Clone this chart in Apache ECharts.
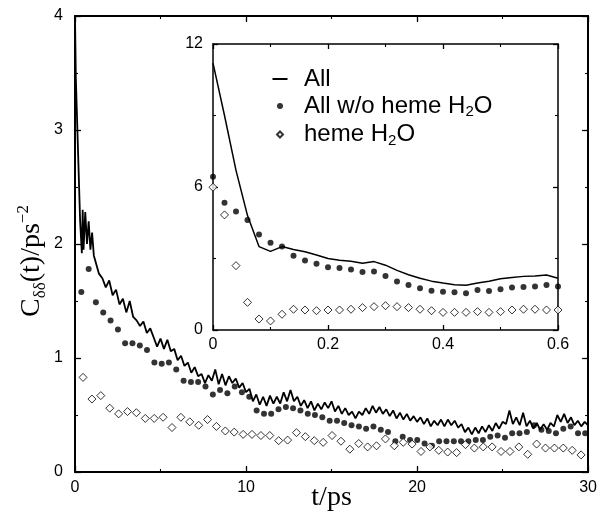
<!DOCTYPE html>
<html>
<head>
<meta charset="utf-8">
<script src="https://cdn.jsdelivr.net/npm/echarts@6/dist/echarts.min.js"></script>
<style>html,body{margin:0;padding:0;background:#fff;}#c{width:600px;height:519px;}</style>
</head>
<body>
<div id="c"></div>
<script>
// ---------- main panel data (t in ps) ----------
const allLineStartT = [0, 0.05, 0.1, 0.2, 0.3, 0.4, 0.45, 0.5, 0.6, 0.7, 0.8, 0.9, 1.0, 1.1];
const allLineStartV = [4.0, 3.45, 3.2, 2.7, 2.2, 1.92, 2.3, 1.95, 2.28, 2.0, 2.2, 1.95, 2.1, 1.9];
const allLineGridStart = 1.2, allLineGridStep = 0.2;
const allLineV = [
  1.90,1.74,1.70,1.62,1.68,1.55,1.60,1.47,1.52,1.40,
  1.50,1.36,1.33,1.28,1.32,1.22,1.26,1.18,1.10,1.17,
  1.08,1.16,1.06,1.08,0.98,1.02,0.93,0.96,0.87,0.92,
  0.84,0.86,0.78,0.85,0.80,0.90,0.77,0.86,0.76,0.84,
  0.78,0.82,0.74,0.78,0.70,0.73,0.62,0.68,0.59,0.66,
  0.58,0.67,0.60,0.66,0.60,0.70,0.62,0.72,0.62,0.66,
  0.58,0.63,0.56,0.62,0.54,0.60,0.55,0.61,0.56,0.62,
  0.53,0.58,0.51,0.56,0.50,0.53,0.47,0.53,0.50,0.56,
  0.51,0.58,0.52,0.57,0.51,0.55,0.49,0.54,0.47,0.52,
  0.46,0.51,0.45,0.49,0.44,0.48,0.42,0.47,0.40,0.45,
  0.41,0.46,0.40,0.46,0.41,0.45,0.39,0.42,0.35,0.39,
  0.33,0.39,0.34,0.40,0.35,0.41,0.36,0.43,0.38,0.44,
  0.42,0.54,0.42,0.48,0.41,0.52,0.40,0.45,0.38,0.43,
  0.37,0.42,0.37,0.43,0.40,0.50,0.44,0.51,0.43,0.48,
  0.41,0.45,0.40,0.44,0.41
];
const woHemeT = [0.37,0.80,1.22,1.65,2.08,2.51,2.93,3.36,3.79,4.21,4.64,5.07,5.49,5.92,6.35,6.78,7.20,7.63,8.06,8.48,
  8.91,9.34,9.76,10.19,10.62,11.05,11.47,11.90,12.33,12.75,13.18,13.61,14.03,14.46,14.89,15.32,15.74,16.17,16.60,17.02,
  17.45,17.88,18.30,18.73,19.16,19.59,20.01,20.44,20.87,21.29,21.72,22.15,22.57,23.00,23.43,23.85,24.28,24.71,25.14,25.56,
  25.99,26.42,26.84,27.27,27.70,28.12,28.55,28.98,29.41,29.83];
const woHemeV = [1.58,1.78,1.49,1.40,1.33,1.25,1.13,1.13,1.11,1.07,0.96,0.95,0.96,0.90,0.80,0.79,0.79,0.75,0.68,0.72,
  0.69,0.75,0.70,0.66,0.54,0.51,0.51,0.55,0.57,0.56,0.54,0.51,0.50,0.48,0.45,0.45,0.43,0.41,0.40,0.38,
  0.40,0.37,0.35,0.27,0.31,0.28,0.28,0.25,0.23,0.27,0.27,0.27,0.27,0.27,0.28,0.28,0.31,0.32,0.30,0.34,
  0.34,0.35,0.41,0.37,0.36,0.34,0.38,0.40,0.34,0.34];
const hemeT = [0.47,0.99,1.51,2.03,2.55,3.07,3.59,4.11,4.63,5.15,5.67,6.19,6.71,7.23,7.75,8.27,8.79,9.31,9.83,10.35,
  10.87,11.39,11.91,12.43,12.95,13.47,13.99,14.51,15.03,15.55,16.07,16.59,17.11,17.63,18.15,18.67,19.19,19.71,20.23,20.75,
  21.27,21.79,22.31,22.83,23.35,23.87,24.39,24.91,25.43,25.95,26.47,26.99,27.51,28.03,28.55,29.07,29.59];
const hemeV = [0.83,0.64,0.67,0.56,0.51,0.53,0.52,0.47,0.47,0.48,0.39,0.48,0.44,0.41,0.46,0.40,0.36,0.35,0.33,0.33,
  0.32,0.32,0.275,0.28,0.345,0.31,0.275,0.26,0.32,0.27,0.20,0.25,0.22,0.23,0.29,0.23,0.26,0.245,0.18,0.22,
  0.19,0.175,0.17,0.24,0.21,0.22,0.22,0.18,0.18,0.22,0.155,0.245,0.21,0.21,0.21,0.19,0.15];

// ---------- inset data (t in ps) ----------
const insetT = [0,0.02,0.04,0.06,0.08,0.10,0.12,0.14,0.16,0.18,0.20,0.22,0.24,0.26,0.28,0.30,
  0.32,0.34,0.36,0.38,0.40,0.42,0.44,0.46,0.48,0.50,0.52,0.54,0.56,0.58,0.60];
const insetAllV = [11.2,9.0,6.7,4.8,3.5,3.3,3.5,3.38,3.28,3.15,3.0,2.93,2.88,2.8,2.87,2.72,
  2.5,2.32,2.17,2.05,1.97,1.9,1.88,1.97,2.05,2.15,2.2,2.25,2.27,2.31,2.17];
const insetWoHemeV = [6.43,5.34,4.97,4.62,4.01,3.66,3.50,3.12,2.92,2.78,2.63,2.60,2.54,2.43,2.45,2.27,
  2.03,1.89,1.75,1.65,1.61,1.58,1.54,1.68,1.64,1.71,1.78,1.80,1.82,1.89,1.82];
const insetHemeV = [5.99,4.83,2.70,1.16,0.46,0.38,0.66,0.87,0.84,0.81,0.84,0.84,0.87,0.94,0.98,1.02,
  0.98,0.94,0.87,0.81,0.74,0.74,0.74,0.77,0.74,0.77,0.84,0.87,0.87,0.84,0.84];

const seriesNames = ['All', 'All w/o heme H2O', 'heme H2O'];

// ---------- build ----------
const zip = (a, b) => a.map((t, i) => [t, b[i]]);
const allLineT = allLineStartT.concat(allLineV.map((_, i) => Math.round((allLineGridStart + allLineGridStep * i) * 100) / 100));
const allLineData = zip(allLineT, allLineStartV.concat(allLineV));

const sans = "'Liberation Sans', Arial, Helvetica, sans-serif";
const serif = "'Liberation Serif', 'Times New Roman', serif";

function axisCommon(w, major, minor) {
  return {
    type: 'value',
    axisLine: { show: true, onZero: false, lineStyle: { color: '#000', width: w } },
    axisTick: { show: true, inside: true, length: major, lineStyle: { color: '#000', width: 1.3 } },
    minorTick: { show: true, splitNumber: 2, length: minor, lineStyle: { color: '#000', width: 1.1 } },
    splitLine: { show: false },
    axisLabel: { show: true, color: '#000', fontFamily: sans, fontSize: 16 }
  };
}
function mirror(base) {
  const o = JSON.parse(JSON.stringify(base));
  o.axisLabel = { show: false };
  delete o.name;
  return o;
}

const mainX = Object.assign(axisCommon(2, 6, 3), {
  gridIndex: 0, min: 0, max: 30, interval: 10, position: 'bottom',
  name: 't/ps', nameLocation: 'middle', nameGap: 12, nameMoveOverlap: false,
  nameTextStyle: { fontFamily: serif, fontSize: 28, color: '#000', verticalAlign: 'top' }
});
mainX.axisLabel.margin = 8;
const mainY = Object.assign(axisCommon(2, 6, 3), {
  gridIndex: 0, min: 0, max: 4, interval: 1, position: 'left',
  name: '{c|C}{sub|δδ}{c|(t)/ps}{sup|−2}{gap| }', nameLocation: 'middle', nameRotate: 90,
  nameGap: 26, nameMoveOverlap: false,
  nameTextStyle: {
    color: '#000', fontFamily: serif,
    rich: {
      c: { fontFamily: serif, fontSize: 28, lineHeight: 34, color: '#000' },
      sub: { fontFamily: serif, fontSize: 17, lineHeight: 17, verticalAlign: 'bottom', color: '#000' },
      sup: { fontFamily: serif, fontSize: 17, lineHeight: 17, verticalAlign: 'top', color: '#000' },
      gap: { width: 34, fontSize: 10 }
    }
  }
});
mainY.axisLabel.margin = 12;

const insetX = Object.assign(axisCommon(1.5, 5, 3), {
  gridIndex: 1, min: 0, max: 0.6, interval: 0.2, position: 'bottom'
});
insetX.axisLabel.margin = 7;
const insetY = Object.assign(axisCommon(1.5, 5, 3), {
  gridIndex: 1, min: 0, max: 12, interval: 6, position: 'left'
});
insetY.axisLabel.margin = 10;

const mainXTop = mirror(mainX); mainXTop.position = 'top';
const mainYRight = mirror(mainY); mainYRight.position = 'right';
const insetXTop = mirror(insetX); insetXTop.position = 'top';
const insetYRight = mirror(insetY); insetYRight.position = 'right';

const dotStyle = { color: '#000' };
const diamondStyle = { color: '#fff', borderColor: '#000', borderWidth: 1 };

const option = {
  animation: false,
  backgroundColor: '#fff',
  grid: [
    { left: 75, right: 7, top: 16, bottom: 47 },
    { left: 213, top: 44, width: 345, height: 286 }
  ],
  xAxis: [mainX, mainXTop, insetX, insetXTop],
  yAxis: [mainY, mainYRight, insetY, insetYRight],
  legend: {
    orient: 'vertical', left: 266, top: 62, itemWidth: 16, itemHeight: 7, itemGap: 3,
    selectedMode: false,
    data: [
      { name: seriesNames[0], icon: 'path://M0,0M16,7M0.5,2.5H15.5V4.5H0.5Z' },
      { name: seriesNames[1], icon: 'path://M0,0M16,7M11,3.5A3,3 0 1 1 5,3.5A3,3 0 1 1 11,3.5Z' },
      { name: seriesNames[2], icon: 'path://M0,0M16,7M8,0.5L11,3.5L8,6.5L5,3.5Z' }
    ],
    formatter: n => n.replace('H2O', '{t|H}{s|2}{t|O}').replace(/^([^{]+)/, '{t|$1}'),
    textStyle: {
      color: '#000', fontFamily: sans, fontSize: 24, padding: [0, 0, 0, 11],
      rich: {
        t: { fontFamily: sans, fontSize: 24, lineHeight: 27, color: '#000' },
        s: { fontFamily: sans, fontSize: 15, lineHeight: 15, verticalAlign: 'bottom', color: '#000' }
      }
    }
  },
  series: [
    { name: seriesNames[0], type: 'line', xAxisIndex: 0, yAxisIndex: 0, data: allLineData, showSymbol: false,
      lineStyle: { color: '#000', width: 1.8 }, itemStyle: { color: '#000' } },
    { name: seriesNames[1], type: 'scatter', xAxisIndex: 0, yAxisIndex: 0, data: zip(woHemeT, woHemeV),
      symbol: 'circle', symbolSize: 6, itemStyle: dotStyle },
    { name: seriesNames[2], type: 'scatter', xAxisIndex: 0, yAxisIndex: 0, data: zip(hemeT, hemeV),
      symbol: 'diamond', symbolSize: 8, itemStyle: diamondStyle },
    { name: seriesNames[0], type: 'line', xAxisIndex: 2, yAxisIndex: 2, data: zip(insetT, insetAllV), showSymbol: false,
      lineStyle: { color: '#000', width: 1.5 }, itemStyle: { color: '#000' } },
    { name: seriesNames[1], type: 'scatter', xAxisIndex: 2, yAxisIndex: 2, data: zip(insetT, insetWoHemeV),
      symbol: 'circle', symbolSize: 6, itemStyle: dotStyle },
    { name: seriesNames[2], type: 'scatter', xAxisIndex: 2, yAxisIndex: 2, data: zip(insetT, insetHemeV),
      symbol: 'diamond', symbolSize: 8, itemStyle: diamondStyle }
  ]
};
option.xAxis[1].gridIndex = 0; option.yAxis[1].gridIndex = 0;
option.xAxis[3].gridIndex = 1; option.yAxis[3].gridIndex = 1;

const chart = echarts.init(document.getElementById('c'), null, { renderer: 'canvas' });
chart.setOption(option);
</script>
</body>
</html>
